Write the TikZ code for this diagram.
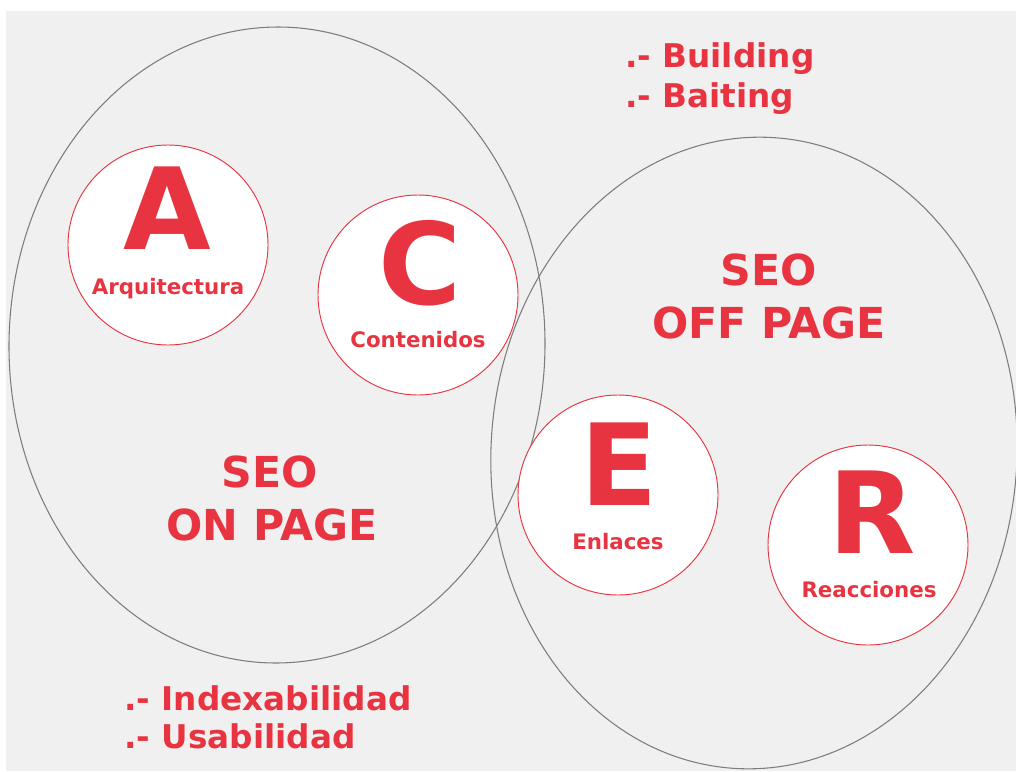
\documentclass[tikz,border=0pt]{standalone}
\usepackage{fontspec}
\setmainfont{DejaVu Sans}
\definecolor{seored}{RGB}{232,52,64}
\definecolor{seobg}{RGB}{240,240,240}
\definecolor{seoline}{RGB}{125,125,125}
\begin{document}
\begin{tikzpicture}[x=0.75pt,y=-0.75pt,line join=round,line cap=round,
  ball/.style={circle,draw=seored,line width=0.7pt,fill=white,minimum size=150pt,inner sep=0pt},
  bigletter/.style={text=seored,anchor=base,inner sep=0pt,font=\fontsize{85}{85}\selectfont\bfseries},
  balllabel/.style={text=seored,anchor=base,inner sep=0pt,font=\fontsize{16}{17}\selectfont\bfseries},
  seotitle/.style={text=seored,anchor=base,inner sep=0pt,font=\fontsize{32}{33}\selectfont\bfseries},
  bullet/.style={text=seored,anchor=base west,inner sep=0pt,font=\fontsize{24.5}{25}\selectfont\bfseries}]
\useasboundingbox (0,0) rectangle (1016,771);
\clip (0,0) rectangle (1016,771);
\fill[white] (0,0) rectangle (1016,771);
\fill[seobg] (6,11) rectangle (1016,771);
\draw[seoline,line width=0.8pt,rotate around={-0.7:(277,345)}] (277,345) ellipse [x radius=268,y radius=318];
\draw[seoline,line width=0.8pt,rotate around={-3.4:(754,453)}] (754,453) ellipse [x radius=263,y radius=316];
\node[ball] (a) at (168,245) {};
\node[ball] (c) at (418,295) {};
\node[ball] (e) at (618,495) {};
\node[ball] (r) at (868,545) {};
\path
(167,249)node[bigletter](la){A}
(420,304)node[bigletter](lc){C}
(619,505)node[bigletter](le){E}
(872,553)node[bigletter](lr){R}
(168,294)node[balllabel](ta){Arquitectura}
(418,347)node[balllabel](tc){Contenidos}
(618,549)node[balllabel](te){Enlaces}
(869,597)node[balllabel](tr){Reacciones}
;
\path
(270,487)node[seotitle](on1){SEO}
(272,540)node[seotitle](on2){ON PAGE}
(769,285)node[seotitle](off1){SEO}
(769,338)node[seotitle](off2){OFF PAGE}
;
\path
(625,67)node[bullet](b1){.- Building}
(625,107)node[bullet](b2){.- Baiting}
(124,710)node[bullet](i1){.- Indexabilidad}
(124,748)node[bullet](i2){.- Usabilidad}
;
\end{tikzpicture}
\end{document}
